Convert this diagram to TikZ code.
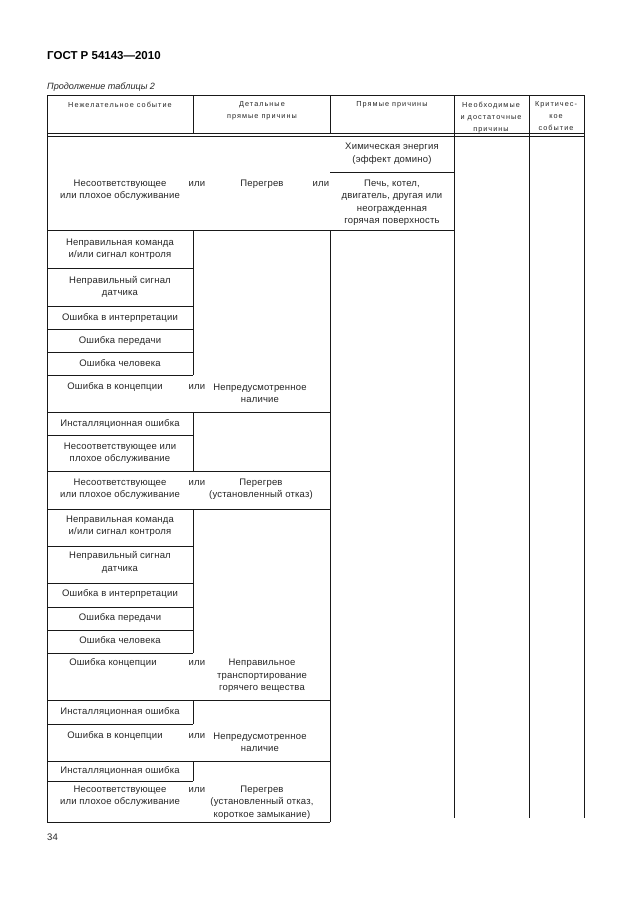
\documentclass[tikz,border=0pt]{standalone}
\usepackage{fontspec}
\setmainfont{Liberation Sans}
\begin{document}
\begin{tikzpicture}[x=1pt,y=-1pt,
  tl/.style={line width=0.9pt, black!90},
  bt/.style={font=\fontsize{9.5}{12.5}\selectfont\addfontfeature{LetterSpace=2}, inner sep=0pt, align=center, text=black!85},
  ht/.style={font=\fontsize{7.3}{12}\selectfont\addfontfeature{LetterSpace=14}, inner sep=0pt, align=center, anchor=north, text=black!85},
]
\useasboundingbox[fill=white] (0,0) rectangle (630,913);
\node[anchor=base west, font=\fontsize{11.5}{13}\selectfont\bfseries, inner sep=0pt] (title) at (47,59) {ГОСТ Р 54143—2010};
\node[anchor=base west, font=\fontsize{9.1}{11}\selectfont\itshape, inner sep=0pt, text=black!85] (cont) at (47,89) {Продолжение таблицы 2};
\node[anchor=base west, bt] (pg) at (47,840) {34};

% grid
\draw[tl] (47,95) -- (584,95);
\draw[tl] (47,133) -- (584,133);
\draw[tl] (47,136.5) -- (584,136.5);
\draw[tl] (47,95) -- (47,822);
\draw[tl] (193,95) -- (193,133);
\draw[tl] (330,95) -- (330,133);
\draw[tl] (454,95) -- (454,818);
\draw[tl] (529,95) -- (529,818);
\draw[tl] (584,95) -- (584,818);
\draw[tl] (330,230) -- (330,822);
\draw[tl] (193,230) -- (193,375);
\draw[tl] (193,412) -- (193,471);
\draw[tl] (193,509) -- (193,653);
\draw[tl] (193,700) -- (193,724);
\draw[tl] (193,761) -- (193,781);
\draw[tl] (330,172) -- (454,172);
\draw[tl] (47,230) -- (454,230);
\foreach \yy in {268,306,329,352,375,435,546,583,607,630,653,724,781}
  \draw[tl] (47,\yy) -- (193,\yy);
\foreach \yy in {412,471,509,700,761,822}
  \draw[tl] (47,\yy) -- (330,\yy);

% header
\node[ht] (h1) at (120,101.5) {Нежелательное событие};
\node[ht] (h2) at (262,101.5) {Детальные\\прямые причины};
\node[ht] (h3) at (392,101.5) {Прямые причины};
\node[ht] (h4) at (491,101.5) {Необходимые\\и достаточные\\причины};
\node[ht] (h5) at (556,101.5) {Критичес-\\кое\\событие};

% row 1
\node[bt] (r1a) at (120,190) {Несоответствующее\\или плохое обслуживание};
\node[bt] (r1b) at (197,184) {или};
\node[bt] (r1c) at (262,184) {Перегрев};
\node[bt] (r1d) at (321,184) {или};
\node[bt] (r1e) at (392,153.5) {Химическая энергия\\(эффект домино)};
\node[bt] (r1f) at (392,202.5) {Печь, котел,\\двигатель, другая или\\неогражденная\\горячая поверхность};

% block 2
\node[bt] (b2a) at (120,249) {Неправильная команда\\и/или сигнал контроля};
\node[bt] (b2b) at (120,287) {Неправильный сигнал\\датчика};
\node[bt] (b2c) at (120,317.5) {Ошибка в интерпретации};
\node[bt] (b2d) at (120,340.5) {Ошибка передачи};
\node[bt] (b2e) at (120,363.5) {Ошибка человека};
\node[bt] (b2f) at (115,387) {Ошибка в концепции};
\node[bt] (b2g) at (197,387) {или};
\node[bt] (b2h) at (260,393.5) {Непредусмотренное\\наличие};

% block 3
\node[bt] (b3a) at (120,423.5) {Инсталляционная ошибка};
\node[bt] (b3b) at (120,453) {Несоответствующее или\\плохое обслуживание};
\node[bt] (b3c) at (120,489) {Несоответствующее\\или плохое обслуживание};
\node[bt] (b3d) at (197,483) {или};
\node[bt] (b3e) at (261,489) {Перегрев\\(установленный отказ)};

% block 4
\node[bt] (b4a) at (120,526) {Неправильная команда\\и/или сигнал контроля};
\node[bt] (b4b) at (120,562.5) {Неправильный сигнал\\датчика};
\node[bt] (b4c) at (120,594) {Ошибка в интерпретации};
\node[bt] (b4d) at (120,617.5) {Ошибка передачи};
\node[bt] (b4e) at (120,640.5) {Ошибка человека};
\node[bt] (b4f) at (113,663) {Ошибка концепции};
\node[bt] (b4g) at (197,663) {или};
\node[bt] (b4h) at (262,676) {Неправильное\\транспортирование\\горячего вещества};

% block 5
\node[bt] (b5a) at (120,711.5) {Инсталляционная ошибка};
\node[bt] (b5b) at (115,736) {Ошибка в концепции};
\node[bt] (b5c) at (197,736) {или};
\node[bt] (b5d) at (260,742.5) {Непредусмотренное\\наличие};

% block 6
\node[bt] (b6a) at (120,771) {Инсталляционная ошибка};
\node[bt] (b6b) at (120,796) {Несоответствующее\\или плохое обслуживание};
\node[bt] (b6c) at (197,790) {или};
\node[bt] (b6d) at (262,802.5) {Перегрев\\(установленный отказ,\\короткое замыкание)};
\end{tikzpicture}
\end{document}
